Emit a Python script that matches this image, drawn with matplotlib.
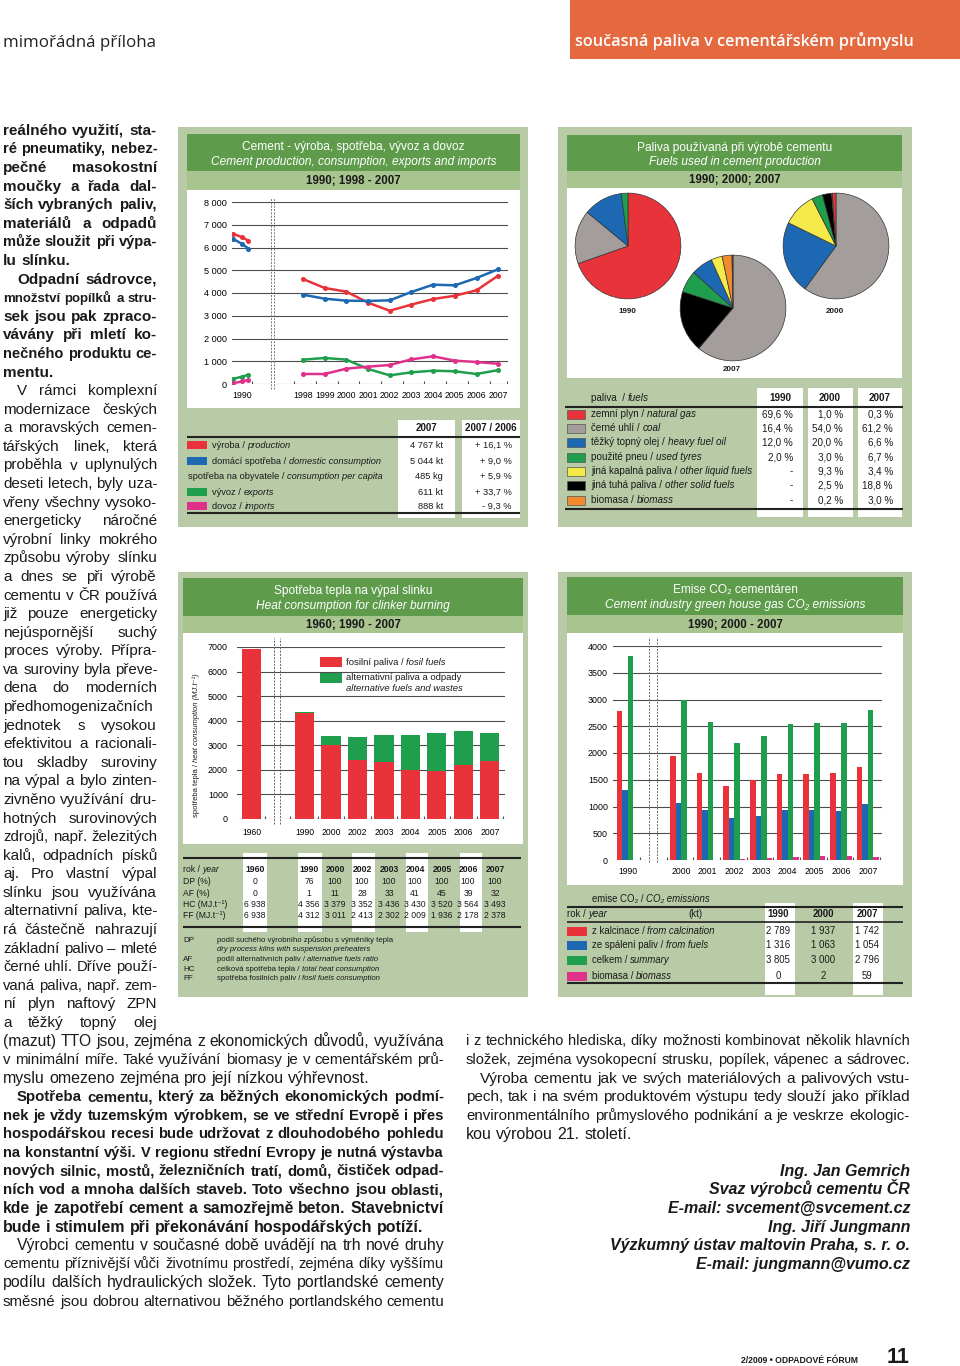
import numpy as np
import matplotlib
matplotlib.use('Agg')
import matplotlib.pyplot as plt
from matplotlib.font_manager import FontProperties, findfont
from matplotlib.patches import Rectangle

# ---------------- data ----------------
# Panel 1: cement production / consumption / exports / imports (kt)
p1_years = ['1998', '1999', '2000', '2001', '2002', '2003', '2004', '2005', '2006', '2007']
p1_production = [4615, 4220, 4060, 3575, 3220, 3490, 3735, 3880, 4117, 4767]
p1_consumption = [3927, 3750, 3663, 3650, 3678, 4044, 4366, 4337, 4660, 5044]
p1_exports = [1070, 1143, 1070, 660, 381, 513, 586, 557, 440, 611]
p1_imports = [440, 440, 674, 762, 835, 1084, 1216, 1026, 967, 888]
p1_1990_production = [6600, 6450, 6300]
p1_1990_consumption = [6370, 6160, 5950]
p1_1990_exports = [230, 320, 410]
p1_1990_imports = [40, 110, 180]
p1_yticks = [0, 1000, 2000, 3000, 4000, 5000, 6000, 7000, 8000]
p1_rows_cz = ['výroba / ', 'domácí spotřeba / ', 'spotřeba na obyvatele / ', 'vývoz / ', 'dovoz / ']
p1_rows_en = ['production', 'domestic consumption', 'consumption per capita', 'exports', 'imports']
p1_val_2007 = ['4 767 kt', '5 044 kt', '485 kg', '611 kt', '888 kt']
p1_change = ['+ 16,1 %', '+ 9,0 %', '+ 5,9 %', '+ 33,7 %', '- 9,3 %']

# Panel 2: fuels used in cement production (%)
fuel_cz = ['zemní plyn / ', 'černé uhlí / ', 'těžký topný olej / ', 'použité pneu / ',
           'jiná kapalná paliva / ', 'jiná tuhá paliva / ', 'biomasa / ']
fuel_en = ['natural gas', 'coal', 'heavy fuel oil', 'used tyres',
           'other liquid fuels', 'other solid fuels', 'biomass']
fuel_1990 = [69.6, 16.4, 12.0, 2.0, 0, 0, 0]
fuel_2000 = [1.0, 54.0, 20.0, 3.0, 9.3, 2.5, 0.2]
fuel_2007 = [0.3, 61.2, 6.6, 6.7, 3.4, 18.8, 3.0]
pie_order_1990 = [0, 1, 2, 3]
pie_order_2000 = [1, 2, 4, 3, 5, 6, 0]
pie_order_2007 = [1, 5, 3, 2, 4, 6, 0]

# Panel 3: heat consumption for clinker burning
heat_years = ['1960', '1990', '2000', '2002', '2003', '2004', '2005', '2006', '2007']
heat_dp = [0, 76, 100, 100, 100, 100, 100, 100, 100]
heat_af = [0, 1, 11, 28, 33, 41, 45, 39, 32]
heat_hc = [6938, 4356, 3379, 3352, 3436, 3430, 3520, 3564, 3493]
heat_ff = [6938, 4312, 3011, 2413, 2302, 2009, 1936, 2178, 2378]
heat_yticks = [0, 1000, 2000, 3000, 4000, 5000, 6000, 7000]

# Panel 4: CO2 emissions (kt)
co2_years = ['1990', '2000', '2001', '2002', '2003', '2004', '2005', '2006', '2007']
co2_calc = [2789, 1937, 1620, 1389, 1495, 1601, 1607, 1620, 1742]
co2_fuel = [1316, 1063, 928, 791, 816, 928, 941, 922, 1054]
co2_total = [3805, 3000, 2586, 2193, 2324, 2542, 2567, 2567, 2796]
co2_bio = [0, 2, 1, 12, 30, 50, 81, 81, 59]
co2_yticks = [0, 500, 1000, 1500, 2000, 2500, 3000, 3500, 4000]
co2_rows_cz = ['z kalcinace / ', 'ze spálení paliv / ', 'celkem / ', 'biomasa / ']
co2_rows_en = ['from calcination', 'from fuels', 'summary', 'biomass']

# ---------------- style ----------------
SANS = ['Liberation Sans', 'DejaVu Sans']
plt.rcParams['font.family'] = SANS


def has_font(name):
    try:
        findfont(FontProperties(family=name), fallback_to_default=False)
        return True
    except Exception:
        return False


NARROW = ['Liberation Sans Narrow', 'DejaVu Sans'] if has_font('Liberation Sans Narrow') else SANS
HEADF = ['Open Sans', 'DejaVu Sans'] if has_font('Open Sans') else SANS

RED = '#E8333B'
BLUE = '#1D68B2'
GREEN = '#1F9F4D'
MAGENTA = '#E0318A'
PGRAY = '#A39E9C'
YELLOW = '#F4EA4A'
ORANGE = '#F28B2D'
BLACK = '#000000'
FUEL_COLORS = [RED, PGRAY, BLUE, GREEN, YELLOW, BLACK, ORANGE]
PANEL_BG = '#B8CAA6'
TITLE_BG = '#5E9C4C'
SUB_BG = '#A8C58F'
GRID = '#4d4d4d'
TXT = '#1a1a1a'

W, H = 960, 1366
fig = plt.figure(figsize=(W / 100, H / 100), dpi=100)
fig.patch.set_facecolor('white')
bg = fig.add_axes([0, 0, 1, 1])
bg.set_xlim(0, W)
bg.set_ylim(H, 0)
bg.axis('off')
R = fig.canvas.get_renderer()


def ax_px(x, y, w, h):
    a = fig.add_axes([x / W, 1 - (y + h) / H, w / W, h / H])
    a.set_facecolor('none')
    return a


def tw(s, size, weight='normal', style='normal', family=SANS):
    fp = FontProperties(family=family, size=size, weight=weight, style=style)
    a = R.get_text_width_height_descent('|' + s + '|', fp, ismath=False)[0]
    b = R.get_text_width_height_descent('||', fp, ismath=False)[0]
    return a - b


def T(x, yc, s, size, weight='normal', style='normal', ha='left', color=TXT, family=SANS):
    return bg.text(x, yc + size * 0.46, s, fontsize=size, fontweight=weight, fontstyle=style,
                   family=family, color=color, ha=ha, va='baseline')


def mixed(x, yc, parts, size, ha='left', color=TXT, weight='normal', family=SANS):
    widths = [tw(p, size, weight, st, family) for p, st in parts]
    tot = sum(widths)
    if ha == 'center':
        x -= tot / 2
    elif ha == 'right':
        x -= tot
    for (p, st), w in zip(parts, widths):
        T(x, yc, p, size, weight, st, 'left', color, family)
        x += w


def rect(x0, y0, x1, y1, color, ec='none', lw=0):
    bg.add_patch(Rectangle((x0, y0), x1 - x0, y1 - y0, facecolor=color, edgecolor=ec, lw=lw))


def hline(y, x0, x1, lw=1.3, color='#222222'):
    bg.plot([x0, x1], [y, y], color=color, lw=lw, solid_capstyle='butt')


def fmt(v):
    return f"{v:,}".replace(',', ' ')


def pct(v):
    return (f"{v:.1f} %".replace('.', ',')) if v > 0 else '-'


def panel_frame(bx0, by0, bx1, by1, ix0, ix1, t0, t1, s1, w1, title1, title2, sub):
    rect(bx0, by0, bx1, by1, PANEL_BG)
    rect(ix0, t0, ix1, t1, TITLE_BG)
    rect(ix0, t1, ix1, s1, SUB_BG)
    rect(ix0, s1, ix1, w1, 'white')
    cx = (ix0 + ix1) / 2
    T(cx, t0 + (t1 - t0) * 0.33, title1, 8.6, ha='center', color='white')
    T(cx, t0 + (t1 - t0) * 0.72, title2, 8.6, style='italic', ha='center', color='white')
    T(cx, (t1 + s1) / 2, sub, 8.3, weight='bold', ha='center')


# ---------------- header ----------------
T(3, 41, 'mimořádná příloha', 12.2, color='#222222', family=HEADF)
rect(570, 0, 960, 59, '#E4693F')
T(575, 41, 'současná paliva v cementářském průmyslu', 11.7, weight='semibold', color='white', family=HEADF)

# ---------------- panel 1 ----------------
panel_frame(178, 127, 528, 527, 187, 520, 134, 171, 190, 408,
            'Cement - výroba, spotřeba, vývoz a dovoz',
            'Cement production, consumption, exports and imports',
            '1990; 1998 - 2007')
ax1 = ax_px(232, 202, 276, 182)
ax1.set_ylim(0, 8000)
ax1.set_xlim(-3.27, 9.45)
for s in ax1.spines.values():
    s.set_visible(False)
for v in p1_yticks:
    ax1.axhline(v, color=GRID, lw=0.8, zorder=0)
pos1990 = -2.81
xs = np.arange(len(p1_years))
ax1.set_yticks(p1_yticks, [fmt(v) for v in p1_yticks])
ax1.set_xticks([pos1990] + list(xs), ['1990'] + p1_years)
ax1.tick_params(axis='y', length=0, pad=3.5, labelsize=6.6)
ax1.tick_params(axis='x', length=0, pad=5, labelsize=6.3)
ax1.vlines([pos1990 + 0.45] + list(xs - 0.4) + [9.4], 0, 140, color=GRID, lw=0.8)
for xb in (-1.47, -1.33):
    ax1.axvline(xb, ymin=-0.03, ymax=1.02, color='#777777', lw=0.7, ls=(0, (2, 1.4)), clip_on=False)
x90 = pos1990 + np.array([-0.4, 0.0, 0.3])
for series, s90, col in [(p1_production, p1_1990_production, RED),
                         (p1_consumption, p1_1990_consumption, BLUE),
                         (p1_exports, p1_1990_exports, GREEN),
                         (p1_imports, p1_1990_imports, MAGENTA)]:
    ax1.plot(xs, series, color=col, lw=1.8, marker='o', ms=2.6, zorder=3)
    ax1.plot(x90, s90, color=col, lw=1.8, marker='o', ms=2.6, zorder=3)

# table 1
rect(398, 420, 455, 518, 'white')
rect(462, 420, 520, 518, 'white')
T(426, 428, '2007', 7.0, weight='bold', ha='center')
T(491, 428, '2007 / 2006', 7.0, weight='bold', ha='center')
hline(437, 187, 520, lw=1.5)
hline(513, 187, 520, lw=1.5)
p1_row_y = [445, 460.5, 476, 491.5, 506]
p1_box_col = [RED, BLUE, None, GREEN, MAGENTA]
for yc, cz, en, v, ch, bc in zip(p1_row_y, p1_rows_cz, p1_rows_en, p1_val_2007, p1_change, p1_box_col):
    if bc is not None:
        rect(187, yc - 4, 207, yc + 4, bc)
        mixed(212, yc, [(cz, 'normal'), (en, 'italic')], 6.7)
    else:
        mixed(188, yc, [(cz, 'normal'), (en, 'italic')], 6.7)
    T(443, yc, v, 6.7, ha='right')
    T(512, yc, ch, 6.7, ha='right')

# ---------------- panel 2 ----------------
panel_frame(558, 127, 912, 527, 567, 902, 135, 171, 188, 378,
            'Paliva používaná při výrobě cementu',
            'Fuels used in cement production',
            '1990; 2000; 2007')
for (cx, cy), vals, order, lab, ly in [((628, 246), fuel_1990, pie_order_1990, '1990', 310),
                                       ((836, 246), fuel_2000, pie_order_2000, '2000', 310),
                                       ((733, 308), fuel_2007, pie_order_2007, '2007', 368)]:
    pa = ax_px(cx - 55, cy - 55, 110, 110)
    v = [vals[i] for i in order if vals[i] > 0]
    c = [FUEL_COLORS[i] for i in order if vals[i] > 0]
    pa.pie(v, colors=c, startangle=90, counterclock=False, radius=1.0,
           wedgeprops=dict(edgecolor='#333333', linewidth=0.5))
    pa.set_xlim(-1.04, 1.04)
    pa.set_ylim(-1.04, 1.04)
    pa.set_aspect('equal')
    pa.axis('off')
    T(cx - 1, ly, lab, 5.8, weight='bold', ha='center')

# table 2
for x0, x1 in [(757, 803), (808, 853), (858, 902)]:
    rect(x0, 388, x1, 517, 'white')
mixed(591, 398, [('paliva  / ', 'normal'), ('fuels', 'italic')], 7.1)
for xc, lab in [(780, '1990'), (830, '2000'), (880, '2007')]:
    T(xc, 398, lab, 7.1, weight='bold', ha='center')
hline(407, 565, 903, lw=1.5)
hline(509, 565, 903, lw=1.5)
p2_row_y = [414, 428, 442, 457, 471, 485, 500]
for i, yc in enumerate(p2_row_y):
    rect(567, yc - 4.5, 585, yc + 4.5, FUEL_COLORS[i], ec='#555555', lw=0.5)
    mixed(591, yc, [(fuel_cz[i], 'normal'), (fuel_en[i], 'italic')], 7.1)
    T(793, yc, pct(fuel_1990[i]), 7.1, ha='right')
    T(843, yc, pct(fuel_2000[i]), 7.1, ha='right')
    T(893, yc, pct(fuel_2007[i]), 7.1, ha='right')

# ---------------- panel 3 ----------------
panel_frame(178, 572, 528, 997, 183, 523, 578, 616, 633, 844,
            'Spotřeba tepla na výpal slinku',
            'Heat consumption for clinker burning',
            '1960; 1990 - 2007')
ax3 = ax_px(237, 647, 268, 172)
ax3.set_ylim(0, 7000)
ax3.set_xlim(-2.55, 7.57)
for s in ax3.spines.values():
    s.set_visible(False)
for v in heat_yticks:
    ax3.axhline(v, color=GRID, lw=0.8, zorder=0)
hx = np.array([-2] + list(range(len(heat_years) - 1)), dtype=float)
alt = [h - f for h, f in zip(heat_hc, heat_ff)]
ax3.bar(hx, heat_ff, width=0.72, color=RED, zorder=2)
ax3.bar(hx, alt, bottom=heat_ff, width=0.72, color=GREEN, zorder=2)
ax3.set_yticks(heat_yticks, [str(v) for v in heat_yticks])
ax3.set_xticks(hx, heat_years)
ax3.tick_params(axis='y', length=0, pad=6.5, labelsize=6.4)
ax3.tick_params(axis='x', length=0, pad=6.5, labelsize=6.2)
ax3.vlines([-1.49, -0.55] + list(np.arange(0.5, 7.6, 1.0)), 0, 120, color=GRID, lw=0.8)
for xb in (-1.15, -0.92):
    ax3.axvline(xb, ymin=-0.03, ymax=1.05, color='#666666', lw=0.7, ls=(0, (2, 1.4)), clip_on=False)
# legend
rect(320, 657, 342, 667, RED)
mixed(346, 662, [('fosilní paliva / ', 'normal'), ('fosil fuels', 'italic')], 6.8)
rect(320, 673, 342, 683, GREEN)
T(346, 677, 'alternativní paliva a odpady', 6.8)
T(346, 688, 'alternative fuels and wastes', 6.8, style='italic')
# y label (rotated)
ylab = [('spotřeba tepla / ', 'normal'), ('heat consumption (MJ.t⁻¹)', 'italic')]
yy = 817
for p, st in ylab:
    bg.text(198, yy, p, fontsize=5.5, fontstyle=st, family=SANS, rotation=90,
            rotation_mode='anchor', ha='left', va='baseline', color=TXT)
    yy -= tw(p, 5.5, 'normal', st)

# table 3
for x0, x1 in [(243, 267), (298, 322), (352, 375), (406, 428), (460, 482)]:
    rect(x0, 853, x1, 932, 'white')
hline(858, 183, 521, lw=1.5)
hline(927, 183, 521, lw=1.5)
p3_cols = [255, 309, 335, 362, 389, 415, 442, 468, 495]
p3_row_y = [869, 881, 893, 904, 915]
mixed(183, p3_row_y[0], [('rok / ', 'normal'), ('year', 'italic')], 6.2)
for lab, yc in zip(['DP (%)', 'AF (%)', 'HC (MJ.t⁻¹)', 'FF (MJ.t⁻¹)'], p3_row_y[1:]):
    T(183, yc, lab, 6.2)
for i, xc in enumerate(p3_cols):
    T(xc, p3_row_y[0], heat_years[i], 6.2, weight='bold', ha='center')
    T(xc, p3_row_y[1], str(heat_dp[i]), 6.2, ha='center')
    T(xc, p3_row_y[2], str(heat_af[i]), 6.2, ha='center')
    T(xc, p3_row_y[3], fmt(heat_hc[i]), 6.2, ha='center')
    T(xc, p3_row_y[4], fmt(heat_ff[i]), 6.2, ha='center')
notes = [('DP', 939, [('podíl suchého výrobního způsobu s výměníky tepla', 'normal')]),
         ('', 948, [('dry process kilns with suspension preheaters', 'italic')]),
         ('AF', 958, [('podíl alternativních paliv / ', 'normal'), ('alternative fuels ratio', 'italic')]),
         ('HC', 968, [('celková spotřeba tepla / ', 'normal'), ('total heat consumption', 'italic')]),
         ('FF', 977, [('spotřeba fosilních paliv / ', 'normal'), ('fosil fuels consumption', 'italic')])]
for ab, yc, parts in notes:
    if ab:
        T(183, yc, ab, 5.8)
    mixed(217, yc, parts, 5.6)

# ---------------- panel 4 ----------------
panel_frame(558, 572, 912, 997, 567, 903, 577, 615, 633, 885,
            'Emise CO₂ cementáren',
            'Cement industry green house gas CO₂ emissions',
            '1990; 2000 - 2007')
ax4 = ax_px(613, 646, 269, 214)
ax4.set_ylim(0, 4000)
ax4.set_xlim(-2.55, 7.53)
for s in ax4.spines.values():
    s.set_visible(False)
for v in co2_yticks:
    ax4.axhline(v, color=GRID, lw=0.8, zorder=0)
cx4 = np.array([-2] + list(range(len(co2_years) - 1)), dtype=float)
bw = 0.206
for k, (vals, col) in enumerate([(co2_calc, RED), (co2_fuel, BLUE), (co2_total, GREEN), (co2_bio, MAGENTA)]):
    ax4.bar(cx4 + (k - 1.5) * bw, vals, width=bw, color=col, zorder=2)
ax4.set_yticks(co2_yticks, [str(v) for v in co2_yticks])
ax4.set_xticks(cx4, co2_years)
ax4.tick_params(axis='y', length=0, pad=3.6, labelsize=6.4)
ax4.tick_params(axis='x', length=0, pad=5.2, labelsize=6.2)
ax4.vlines([-1.54] + list(np.arange(-0.54, 7.6, 1.0)), 0, 60, color=GRID, lw=0.8)
for xb in (-1.2, -0.9):
    ax4.axvline(xb, ymin=-0.01, ymax=1.04, color='#666666', lw=0.7, ls=(0, (2, 1.4)), clip_on=False)

# table 4
rect(765, 903, 795, 995, 'white')
rect(853, 903, 883, 995, 'white')
mixed(592, 899, [('emise CO₂ / ', 'normal'), ('CO₂ emissions', 'italic')], 6.9)
hline(907, 567, 903, lw=1.5)
mixed(567, 914, [('rok / ', 'normal'), ('year', 'italic')], 6.9)
T(695, 914, '(kt)', 6.9, ha='center')
p4_cols = [778, 823, 867]
p4_idx = [0, 1, 8]
for xc, i in zip(p4_cols, p4_idx):
    T(xc, 914, co2_years[i], 6.9, weight='bold', ha='center')
hline(922, 567, 903, lw=1.2)
p4_row_y = [931, 945, 960, 976]
for r, (yc, cz, en, col, series) in enumerate(zip(p4_row_y, co2_rows_cz, co2_rows_en,
                                                 [RED, BLUE, GREEN, MAGENTA],
                                                 [co2_calc, co2_fuel, co2_total, co2_bio])):
    rect(567, yc - 4.5, 587, yc + 4.5, col)
    mixed(592, yc, [(cz, 'normal'), (en, 'italic')], 6.9)
    for xc, i in zip(p4_cols, p4_idx):
        T(xc, yc, fmt(series[i]), 6.9, ha='center')
hline(983, 567, 903, lw=1.5)

# ---------------- body text ----------------
LINE0, LSTEP = 130.0, 18.58


def jline(x0, x1, n, s, size, weight='normal', style='normal', family=SANS, justify=True, indent=0):
    y = LINE0 + LSTEP * n
    words = s.split()
    ws = [tw(w, size, weight, style, family) for w in words]
    sp = tw(' ', size, weight, style, family)
    avail = x1 - x0 - indent
    nat = sum(ws) + sp * (len(words) - 1)
    sc = 1.0
    if nat > avail:
        sc = avail / nat * 0.995
    ws = [w * sc for w in ws]
    sp *= sc
    gap = (avail - sum(ws)) / (len(words) - 1) if (justify and len(words) > 1) else sp
    x = x0 + indent
    for w, wd in zip(words, ws):
        T(x, y, w, size * sc, weight, style, 'left', TXT, family)
        x += wd + gap


left_col = [
    ("reálného využití, sta-", 'bold', False, 0),
    ("ré pneumatiky, nebez-", 'bold', False, 0),
    ("pečné masokostní", 'bold', False, 0),
    ("moučky a řada dal-", 'bold', False, 0),
    ("ších vybraných paliv,", 'bold', False, 0),
    ("materiálů a odpadů", 'bold', False, 0),
    ("může sloužit při výpa-", 'bold', False, 0),
    ("lu slínku.", 'bold', True, 0),
    ("Odpadní sádrovce,", 'bold', False, 14),
    ("množství popílků a stru-", 'bold', False, 0),
    ("sek jsou pak zpraco-", 'bold', False, 0),
    ("vávány při mletí ko-", 'bold', False, 0),
    ("nečného produktu ce-", 'bold', False, 0),
    ("mentu.", 'bold', True, 0),
    ("V rámci komplexní", 'normal', False, 14),
    ("modernizace českých", 'normal', False, 0),
    ("a moravských cemen-", 'normal', False, 0),
    ("tářských linek, která", 'normal', False, 0),
    ("proběhla v uplynulých", 'normal', False, 0),
    ("deseti letech, byly uza-", 'normal', False, 0),
    ("vřeny všechny vysoko-", 'normal', False, 0),
    ("energeticky náročné", 'normal', False, 0),
    ("výrobní linky mokrého", 'normal', False, 0),
    ("způsobu výroby slínku", 'normal', False, 0),
    ("a dnes se při výrobě", 'normal', False, 0),
    ("cementu v ČR používá", 'normal', False, 0),
    ("již pouze energeticky", 'normal', False, 0),
    ("nejúspornější suchý", 'normal', False, 0),
    ("proces výroby. Přípra-", 'normal', False, 0),
    ("va suroviny byla převe-", 'normal', False, 0),
    ("dena do moderních", 'normal', False, 0),
    ("předhomogenizačních", 'normal', False, 0),
    ("jednotek s vysokou", 'normal', False, 0),
    ("efektivitou a racionali-", 'normal', False, 0),
    ("tou skladby suroviny", 'normal', False, 0),
    ("na výpal a bylo zinten-", 'normal', False, 0),
    ("zivněno využívání dru-", 'normal', False, 0),
    ("hotných surovinových", 'normal', False, 0),
    ("zdrojů, např. železitých", 'normal', False, 0),
    ("kalů, odpadních písků", 'normal', False, 0),
    ("aj. Pro vlastní výpal", 'normal', False, 0),
    ("slínku jsou využívána", 'normal', False, 0),
    ("alternativní paliva, kte-", 'normal', False, 0),
    ("rá částečně nahrazují", 'normal', False, 0),
    ("základní palivo – mleté", 'normal', False, 0),
    ("černé uhlí. Dříve použí-", 'normal', False, 0),
    ("vaná paliva, např. zem-", 'normal', False, 0),
    ("ní plyn naftový ZPN", 'normal', False, 0),
    ("a těžký topný olej", 'normal', False, 0),
]
for n, (s, wt, last, ind) in enumerate(left_col):
    jline(3, 157, n, s, 11, weight=wt, justify=not last, indent=ind)

bottom_left = [
    ("(mazut) TTO jsou, zejména z ekonomických důvodů, využívána", 'normal', False, 0),
    ("v minimální míře. Také využívání biomasy je v cementářském prů-", 'normal', False, 0),
    ("myslu omezeno zejména pro její nízkou výhřevnost.", 'normal', True, 0),
    ("Spotřeba cementu, který za běžných ekonomických podmí-", 'bold', False, 14),
    ("nek je vždy tuzemským výrobkem, se ve střední Evropě i přes", 'bold', False, 0),
    ("hospodářskou recesi bude udržovat z dlouhodobého pohledu", 'bold', False, 0),
    ("na konstantní výši. V regionu střední Evropy je nutná výstavba", 'bold', False, 0),
    ("nových silnic, mostů, železničních tratí, domů, čističek odpad-", 'bold', False, 0),
    ("ních vod a mnoha dalších staveb. Toto všechno jsou oblasti,", 'bold', False, 0),
    ("kde je zapotřebí cement a samozřejmě beton. Stavebnictví", 'bold', False, 0),
    ("bude i stimulem při překonávání hospodářských potíží.", 'bold', True, 0),
    ("Výrobci cementu v současné době uvádějí na trh nové druhy", 'normal', False, 14),
    ("cementu příznivější vůči životnímu prostředí, zejména díky vyššímu", 'normal', False, 0),
    ("podílu dalších hydraulických složek. Tyto portlandské cementy", 'normal', False, 0),
    ("směsné jsou dobrou alternativou běžného portlandského cementu", 'normal', False, 0),
]
for k, (s, wt, last, ind) in enumerate(bottom_left):
    jline(3, 444, 49 + k, s, 11.5, weight=wt, family=NARROW, justify=not last, indent=ind)

bottom_right = [
    ("i z technického hlediska, díky možnosti kombinovat několik hlavních", False, 0),
    ("složek, zejména vysokopecní strusku, popílek, vápenec a sádrovec.", False, 0),
    ("Výroba cementu jak ve svých materiálových a palivových vstu-", False, 14),
    ("pech, tak i na svém produktovém výstupu tedy slouží jako příklad", False, 0),
    ("environmentálního průmyslového podnikání a je veskrze ekologic-", False, 0),
    ("kou výrobou 21. století.", True, 0),
]
for k, (s, last, ind) in enumerate(bottom_right):
    jline(466, 910, 49 + k, s, 11.5, family=NARROW, justify=not last, indent=ind)

signature = ["Ing. Jan Gemrich", "Svaz výrobců cementu ČR", "E-mail: svcement@svcement.cz",
             "Ing. Jiří Jungmann", "Výzkumný ústav maltovin Praha, s. r. o.", "E-mail: jungmann@vumo.cz"]
for k, s in enumerate(signature):
    T(910, LINE0 + LSTEP * (56 + k), s, 11.5, weight='bold', style='italic', ha='right', family=NARROW)

# ---------------- footer ----------------
T(858, 1360, '2/2009 • ODPADOVÉ FÓRUM', 6.2, weight='bold', ha='right', family=NARROW)
bg.text(910, 1363, '11', fontsize=15.5, fontweight='bold', ha='right', va='baseline', color=TXT, family=NARROW)

fig.savefig('out.png', dpi=100, facecolor='white')
